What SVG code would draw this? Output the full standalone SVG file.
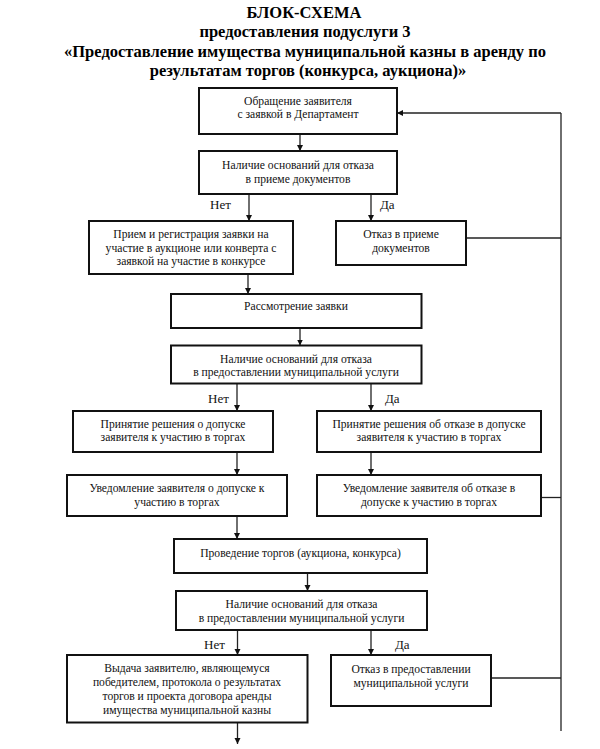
<svg xmlns="http://www.w3.org/2000/svg" width="600" height="749" viewBox="0 0 600 749">
<style>
.title{font-family:"Liberation Serif","Times New Roman",serif;font-weight:bold;font-size:16.5px;fill:#000;text-anchor:middle}
.t{font-family:"Liberation Serif","Times New Roman",serif;font-size:11.6px;fill:#111;text-anchor:middle}
.lbl{font-family:"Liberation Serif","Times New Roman",serif;font-size:13px;fill:#111}
.box{fill:#fff;stroke:#111;stroke-width:2}
.c{fill:none;stroke:#222;stroke-width:1.3}
</style>
<defs>
<marker id="ah" viewBox="0 0 10 10" refX="10" refY="5" markerWidth="6" markerHeight="7" markerUnits="userSpaceOnUse" orient="auto">
<path d="M0,0 L10,5 L0,10 Z" fill="#111"/>
</marker>
</defs>
<rect width="600" height="749" fill="#fff"/>
<g id="title">
<text class="title" x="304" y="18">БЛОК-СХЕМА</text>
<text class="title" x="305" y="37">предоставления подуслуги 3</text>
<text class="title" x="305" y="56.5">«Предоставление имущества муниципальной казны в аренду по</text>
<text class="title" x="308" y="76">результатам торгов (конкурса, аукциона)»</text>
</g>
<g id="connectors">
<line class="c" x1="300" y1="134" x2="300" y2="151" marker-end="url(#ah)"/>
<line class="c" x1="249" y1="194" x2="249" y2="221" marker-end="url(#ah)"/>
<line class="c" x1="371" y1="194" x2="371" y2="221" marker-end="url(#ah)"/>
<line class="c" x1="248" y1="274" x2="248" y2="294" marker-end="url(#ah)"/>
<line class="c" x1="300" y1="328" x2="300" y2="345.5" marker-end="url(#ah)"/>
<line class="c" x1="237" y1="383.5" x2="237" y2="411" marker-end="url(#ah)"/>
<line class="c" x1="371" y1="383.5" x2="371" y2="411" marker-end="url(#ah)"/>
<line class="c" x1="237" y1="452" x2="237" y2="475" marker-end="url(#ah)"/>
<line class="c" x1="371" y1="452" x2="371" y2="475" marker-end="url(#ah)"/>
<line class="c" x1="237" y1="516" x2="237" y2="539" marker-end="url(#ah)"/>
<line class="c" x1="307.5" y1="573" x2="307.5" y2="591" marker-end="url(#ah)"/>
<line class="c" x1="237.5" y1="630" x2="237.5" y2="655" marker-end="url(#ah)"/>
<line class="c" x1="371" y1="630" x2="371" y2="655" marker-end="url(#ah)"/>
<line class="c" x1="237.5" y1="722.5" x2="237.5" y2="744" marker-end="url(#ah)"/>
<line class="c" x1="466" y1="238" x2="561" y2="238"/>
<line class="c" x1="541" y1="497.5" x2="561" y2="497.5"/>
<line class="c" x1="491" y1="678" x2="561" y2="678"/>
<line class="c" x1="561" y1="731" x2="561" y2="113"/>
<line class="c" x1="561" y1="113" x2="397" y2="113" marker-end="url(#ah)"/>
<text class="lbl" x="210" y="208.5">Нет</text>
<text class="lbl" x="380" y="208.5">Да</text>
<text class="lbl" x="208" y="403">Нет</text>
<text class="lbl" x="385" y="403">Да</text>
<text class="lbl" x="204" y="649">Нет</text>
<text class="lbl" x="395" y="649">Да</text>
</g>
<g id="n1">
<rect class="box" x="199" y="88" width="198" height="46"/>
<text class="t" x="298" y="104.5">Обращение заявителя</text>
<text class="t" x="298" y="118">с заявкой в Департамент</text>
</g>
<g id="n2">
<rect class="box" x="199" y="151" width="198" height="43"/>
<text class="t" x="298" y="169">Наличие оснований для отказа</text>
<text class="t" x="298" y="182.5">в приеме документов</text>
</g>
<g id="n3">
<rect class="box" x="89" y="221" width="204" height="53"/>
<text class="t" x="191" y="238">Прием и регистрация заявки на</text>
<text class="t" x="191" y="251.5">участие в аукционе или конверта с</text>
<text class="t" x="191" y="265">заявкой на участие в конкурсе</text>
</g>
<g id="n4">
<rect class="box" x="336" y="221" width="130" height="44"/>
<text class="t" x="401" y="238">Отказ в приеме</text>
<text class="t" x="401" y="251.5">документов</text>
</g>
<g id="n5">
<rect class="box" x="171" y="294" width="250.5" height="34"/>
<text class="t" x="296" y="310">Рассмотрение заявки</text>
</g>
<g id="n6">
<rect class="box" x="171" y="345.5" width="250.5" height="38"/>
<text class="t" x="296" y="362.5">Наличие оснований для отказа</text>
<text class="t" x="296" y="376">в предоставлении муниципальной услуги</text>
</g>
<g id="n7">
<rect class="box" x="73" y="411" width="200" height="41"/>
<text class="t" x="173" y="427.5">Принятие решения о  допуске</text>
<text class="t" x="173" y="440.5">заявителя к участию в торгах</text>
</g>
<g id="n8">
<rect class="box" x="317" y="411" width="224" height="41"/>
<text class="t" x="429" y="427.5">Принятие решения об отказе в  допуске</text>
<text class="t" x="429" y="440.5">заявителя к участию в торгах</text>
</g>
<g id="n9">
<rect class="box" x="67" y="475" width="220" height="41"/>
<text class="t" x="177" y="492">Уведомление заявителя о допуске  к</text>
<text class="t" x="177" y="505.5">участию в торгах</text>
</g>
<g id="n10">
<rect class="box" x="317" y="475" width="224" height="41"/>
<text class="t" x="429" y="492">Уведомление заявителя об отказе в</text>
<text class="t" x="429" y="505.5">допуске  к участию в торгах</text>
</g>
<g id="n11">
<rect class="box" x="174" y="539" width="253" height="34"/>
<text class="t" x="300.5" y="557">Проведение торгов (аукциона, конкурса)</text>
</g>
<g id="n12">
<rect class="box" x="176" y="591" width="251" height="39"/>
<text class="t" x="301.5" y="608">Наличие оснований для отказа</text>
<text class="t" x="301.5" y="621.5">в предоставлении муниципальной услуги</text>
</g>
<g id="n13">
<rect class="box" x="67" y="655" width="240.5" height="67.5"/>
<text class="t" x="187" y="671.5">Выдача заявителю, являющемуся</text>
<text class="t" x="187" y="685.5">победителем, протокола о результатах</text>
<text class="t" x="187" y="699.5">торгов и проекта договора аренды</text>
<text class="t" x="187" y="713.5">имущества муниципальной казны</text>
</g>
<g id="n14">
<rect class="box" x="331" y="655" width="160" height="51"/>
<text class="t" x="411" y="673">Отказ в предоставлении</text>
<text class="t" x="411" y="686.5">муниципальной услуги</text>
</g>
</svg>
